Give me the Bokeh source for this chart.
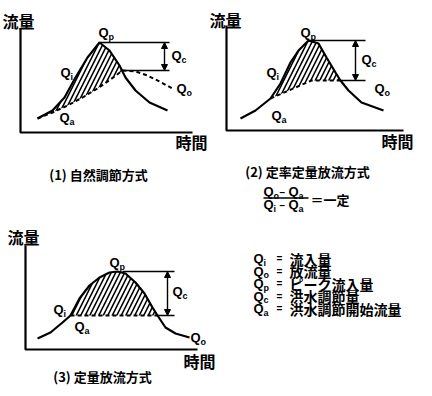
from bokeh.plotting import figure
from bokeh.layouts import row, column
from bokeh.models import Range1d, ColumnDataSource, Arrow, NormalHead
from bokeh.core.properties import value
from bokeh.embed import file_html
from bokeh.resources import INLINE

JP = "Noto Sans CJK JP"
LAT = "Liberation Sans"

# ---------------- data (time, flow), relative to each panel's axes origin
# (1) 自然調節方式
p1_qi_t = [17, 32, 44, 55, 67, 79, 89, 99, 105, 115, 129, 147]
p1_qi_q = [14, 22, 35, 55, 75, 90, 82, 67, 55, 42, 30, 22]
p1_qo_t = [17, 32, 47, 62, 77, 90, 102, 115, 127, 139, 152]
p1_qo_q = [14, 20, 27, 35, 44, 53, 62, 61, 57, 51, 44]
# (2) 定率定量放流方式
p2_qi_t = [14, 29, 44, 54, 64, 72, 82, 92, 100, 109, 114, 122, 135, 157]
p2_qi_q = [12, 20, 32, 47, 68, 80, 90, 87, 73, 58, 50, 40, 28, 20]
p2_qo_t = [44, 85, 114]
p2_qo_q = [32, 50, 50]
# (3) 定量放流方式
p3_qi_t = [12, 25, 37, 45, 54, 64, 74, 84, 92, 100, 110, 119, 127, 132, 140, 150, 164]
p3_qi_q = [11, 17, 27, 34, 51, 64, 72, 77, 78, 76, 67, 56, 42, 34, 22, 16, 12]
p3_qo_t = [45, 132]
p3_qo_q = [34, 34]

captions = ["(1) 自然調節方式", "(2) 定率定量放流方式", "(3) 定量放流方式"]
y_label = "流量"
x_label = "時間"
legend_sub = ["i", "o", "p", "c", "a"]
legend_txt = ["流入量", "放流量", "ピーク流入量", "洪水調節量", "洪水調節開始流量"]
formula_tail = "＝一定"


def panel(ox, oy, w, h):
    p = figure(width=w, height=h, x_range=Range1d(-ox, w - ox), y_range=Range1d(oy - h, oy),
               output_backend="svg", toolbar_location=None, x_axis_type=None, y_axis_type=None,
               min_border=0)
    p.outline_line_color = None
    p.background_fill_color = "white"
    p.border_fill_color = "white"
    return p


def txt(p, x, y, s, size, align="center", font=JP, baseline="middle"):
    p.text(x=[x], y=[y], text=[s], text_font=value(font), text_font_size=f"{size}px",
           text_font_style="bold", text_align=align, text_baseline=baseline, text_color="black")


def qlabels(p, ts, qs, subs):
    src = ColumnDataSource(dict(t=ts, q=qs, s=subs))
    p.text(x="t", y="q", text=value("Q"), source=src, text_font=value(LAT), text_font_size="13px",
           text_font_style="bold", text_align="center", text_baseline="middle", text_color="black")
    p.text(x="t", y="q", text="s", source=src, text_font=value(LAT), text_font_size="9px",
           text_font_style="bold", text_align="left", text_baseline="middle", text_color="black",
           x_offset=5, y_offset=4)


def draw_panel(p, qi_t, qi_q, qo_t, qo_q, x_end, y_top, hatch_from, hatch_to,
               br_top_from, br_end, br_arrow_x, br_bot_from):
    # axes
    p.line([0, 0, x_end], [y_top, 0, 0], line_color="black", line_width=2.2)
    # hatched region
    hx = [t for t in qi_t if hatch_from <= t < hatch_to]
    hy = [q for t, q in zip(qi_t, qi_q) if hatch_from <= t < hatch_to]
    rx = [t for t in qo_t if hatch_from <= t <= hatch_to][::-1]
    ry = [q for t, q in zip(qo_t, qo_q) if hatch_from <= t <= hatch_to][::-1]
    p.patch(hx + rx, hy + ry, fill_alpha=0, line_color=None, hatch_pattern="/",
            hatch_color="black", hatch_weight=1.6, hatch_scale=9)
    # inflow
    p.line(qi_t, qi_q, line_color="black", line_width=2.2)
    # outflow dashed
    p.line(qo_t, qo_q, line_color="black", line_width=2, line_dash="4 3")
    # bracket
    peak = max(qi_q)
    qomax = max(qo_q)
    p.line([br_top_from, br_end], [peak, peak], line_color="black", line_width=1.6)
    p.line([br_bot_from, br_end], [qomax, qomax], line_color="black", line_width=1.6)
    p.add_layout(Arrow(start=NormalHead(size=6, fill_color="black", line_color="black"),
                       end=NormalHead(size=6, fill_color="black", line_color="black"),
                       x_start=br_arrow_x, y_start=peak, x_end=br_arrow_x, y_end=qomax,
                       line_width=1.4, line_color="black"))


# ---------------- panel 1
f1 = panel(20, 132, 208, 218)
draw_panel(f1, p1_qi_t, p1_qi_q, p1_qo_t, p1_qo_q, 172, 104, 17, 102, 79, 149, 144, 102)
qlabels(f1, [83, 156, 161, 45, 44], [100, 77, 44, 60, 15], ["p", "c", "o", "i", "a"])
txt(f1, -2, 112, y_label, 16)
txt(f1, 171, -9, x_label, 16)
txt(f1, 78, -42, captions[0], 13)

# ---------------- panel 2
f2 = panel(18, 130, 208, 218)
draw_panel(f2, p2_qi_t, p2_qi_q, p2_qo_t, p2_qo_q, 177, 105, 44, 114, 82, 139, 129, 114)
qlabels(f2, [79, 140, 153, 45, 50], [98, 71, 42, 58, 15], ["p", "c", "o", "i", "a"])
txt(f2, -1, 111, y_label, 16)
txt(f2, 171, -10, x_label, 16)
txt(f2, 81, -41, captions[1], 13)
# formula (Qo - Qa) / (Qi - Qa) = 一定
qlabels(f2, [42, 67, 42, 67], [-61, -61, -74, -74], ["o", "a", "i", "a"])
txt(f2, 56, -61, "−", 10, font=LAT)
txt(f2, 56, -74, "−", 10, font=LAT)
f2.line([37, 82], [-67.5, -67.5], line_color="black", line_width=1.5)
txt(f2, 84, -69, formula_tail, 13, align="left")

# ---------------- panel 3
f3 = panel(25, 131, 230, 170)
draw_panel(f3, p3_qi_t, p3_qi_q, p3_qo_t, p3_qo_q, 172, 104, 45, 132, 97, 149, 142, 132)
qlabels(f3, [89, 152, 33, 54, 170], [87, 58, 40, 23, 12], ["p", "c", "i", "a", "o"])
txt(f3, -2, 113, y_label, 16)
txt(f3, 174, -11, x_label, 16)
txt(f3, 77, -27, captions[2], 13)

# ---------------- legend (pixel-like coordinates)
f4 = figure(width=186, height=170, x_range=Range1d(238, 424), y_range=Range1d(388, 218),
            output_backend="svg", toolbar_location=None, x_axis_type=None, y_axis_type=None,
            min_border=0)
f4.outline_line_color = None
rows_y = [258, 270.5, 283, 295.5, 308]
qlabels(f4, [266] * 5, rows_y, legend_sub)
f4.text(x=[287] * 5, y=rows_y, text=["="] * 5, text_font=value(LAT), text_font_size="10px",
        text_font_style="bold", text_align="center", text_baseline="middle", text_color="black")
f4.text(x=[297] * 5, y=rows_y, text=legend_txt, text_font=value(JP), text_font_size="14px",
        text_font_style="bold", text_align="left", text_baseline="middle", text_color="black")

layout = column(row(f1, f2), row(f3, f4))
open("out.html", "w").write(file_html(layout, INLINE))
